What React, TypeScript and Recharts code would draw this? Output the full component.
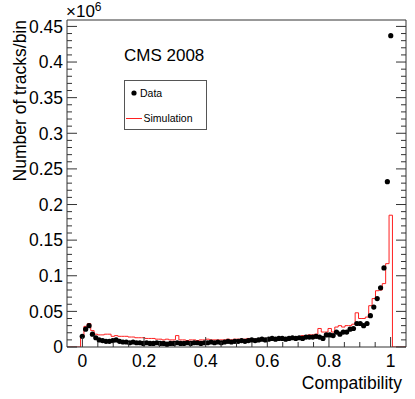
import React from 'react';
import { ComposedChart, Line, Scatter, XAxis, YAxis } from 'recharts';

// Histogram definition: 100 bins from -0.05 to 1.05 (width 0.011)
const BIN_START = -0.05;
const BIN_WIDTH = 0.011;
const BIN_COUNT = 100;
const FIRST_FILLED_BIN = 4; // bin centred on ~0

// values in units of 10^6 tracks/bin, bins 4..95
const dataValues = [
  0.015, 0.025, 0.030, 0.018, 0.013, 0.010, 0.009, 0.008, 0.008, 0.009,
  0.010, 0.008, 0.007, 0.007, 0.006, 0.007, 0.006, 0.006, 0.005, 0.006,
  0.005, 0.005, 0.006, 0.005, 0.005, 0.004, 0.005, 0.005, 0.006, 0.005,
  0.005, 0.006, 0.005, 0.006, 0.006, 0.005, 0.006, 0.006, 0.007, 0.006,
  0.007, 0.006, 0.007, 0.008, 0.007, 0.008, 0.008, 0.009, 0.008, 0.009,
  0.010, 0.009, 0.010, 0.011, 0.010, 0.011, 0.012, 0.011, 0.012, 0.012,
  0.011, 0.012, 0.013, 0.012, 0.013, 0.012, 0.014, 0.014, 0.014, 0.015,
  0.014, 0.012, 0.017, 0.017, 0.016, 0.021, 0.018, 0.021, 0.021, 0.025,
  0.026, 0.033, 0.033, 0.030, 0.033, 0.044, 0.056, 0.068, 0.083, 0.111,
  0.232, 0.437,
];

const simValues = [
  0.015, 0.029, 0.033, 0.023, 0.018, 0.017, 0.017, 0.018, 0.018, 0.015,
  0.016, 0.015, 0.015, 0.015, 0.014, 0.014, 0.013, 0.013, 0.013, 0.012,
  0.012, 0.012, 0.011, 0.011, 0.010, 0.011, 0.010, 0.010, 0.016, 0.010,
  0.010, 0.009, 0.010, 0.010, 0.009, 0.010, 0.010, 0.011, 0.010, 0.010,
  0.010, 0.010, 0.010, 0.011, 0.010, 0.011, 0.011, 0.011, 0.011, 0.012,
  0.010, 0.011, 0.010, 0.011, 0.012, 0.011, 0.012, 0.012, 0.012, 0.013,
  0.012, 0.013, 0.013, 0.013, 0.014, 0.016, 0.016, 0.017, 0.017, 0.018,
  0.026, 0.021, 0.021, 0.026, 0.021, 0.028, 0.030, 0.028, 0.030, 0.030,
  0.032, 0.048, 0.040, 0.040, 0.042, 0.058, 0.068, 0.079, 0.080, 0.089,
  0.117, 0.185,
];

const xTicks = [
  0, 0.05, 0.1, 0.15, 0.2, 0.25, 0.3, 0.35, 0.4, 0.45, 0.5,
  0.55, 0.6, 0.65, 0.7, 0.75, 0.8, 0.85, 0.9, 0.95, 1.0,
];
const xLabelled = [0, 0.2, 0.4, 0.6, 0.8, 1];
const yLabelled = [0, 0.05, 0.1, 0.15, 0.2, 0.25, 0.3, 0.35, 0.4, 0.45];
const yTicks = Array.from({ length: 46 }, (_, i) => i / 100);

const X_DOMAIN: [number, number] = [-0.05, 1.05];
const Y_DOMAIN: [number, number] = [0, 0.459];

const simSeries = Array.from({ length: BIN_COUNT + 1 }, (_, k) => {
  const idx = k - FIRST_FILLED_BIN;
  const v = idx >= 0 && idx < simValues.length ? simValues[idx] : 0;
  return { x: BIN_START + k * BIN_WIDTH, sim: v };
});
const dataSeries = dataValues.map((v, i) => ({
  x: BIN_START + (i + FIRST_FILLED_BIN + 0.5) * BIN_WIDTH,
  y: v,
}));

const FONT = "'Liberation Sans', Arial, Helvetica, sans-serif";
const FRAME = '#333';

const isIn = (v: number, arr: number[]) => arr.some((a) => Math.abs(a - v) < 1e-6);
const fmt = (v: number) => (Math.abs(v) < 1e-9 ? '0' : String(parseFloat(v.toFixed(2))));

const BottomTick = (p: any) => {
  const v = p.payload.value;
  const major = isIn(v, xLabelled);
  return (
    <g>
      <line x1={p.x} x2={p.x} y1={p.y} y2={p.y - (major ? 10 : 5)} stroke={FRAME} />
      {major && (
        <text x={p.x} y={p.y + 20} textAnchor="middle" fontSize={17.5} fontFamily={FONT} fill="#000">
          {fmt(v)}
        </text>
      )}
    </g>
  );
};
const TopTick = (p: any) => {
  const v = p.payload.value;
  const major = isIn(v, xLabelled);
  return <line x1={p.x} x2={p.x} y1={p.y} y2={p.y + (major ? 10 : 5)} stroke={FRAME} />;
};
const LeftTick = (p: any) => {
  const v = p.payload.value;
  const major = isIn(v, yLabelled);
  return (
    <g>
      <line x1={p.x} x2={p.x + (major ? 10 : 5)} y1={p.y} y2={p.y} stroke={FRAME} />
      {major && (
        <text x={p.x - 4} y={p.y} dy="0.36em" textAnchor="end" fontSize={17.5} fontFamily={FONT} fill="#000">
          {fmt(v)}
        </text>
      )}
    </g>
  );
};
const RightTick = (p: any) => {
  const v = p.payload.value;
  const major = isIn(v, yLabelled);
  return <line x1={p.x} x2={p.x - (major ? 10 : 5)} y1={p.y} y2={p.y} stroke={FRAME} />;
};

const Dot = (p: any) => <circle cx={p.cx} cy={p.cy} r={2.6} fill="#000" />;

export default function App() {
  return (
    <div style={{ position: 'absolute', left: 0, top: 0, width: 415, height: 399, background: '#fff' }}>
      <ComposedChart
        width={415}
        height={399}
        margin={{ top: 19, right: 8, bottom: 22, left: 0 }}
      >
        <XAxis
          xAxisId="x"
          dataKey="x"
          type="number"
          domain={X_DOMAIN}
          allowDataOverflow
          ticks={xTicks}
          interval={0}
          height={30}
          tickSize={0}
          tickMargin={0}
          tickLine={false}
          axisLine={{ stroke: FRAME }}
          tick={<BottomTick />}
        />
        <XAxis
          xAxisId="xt"
          orientation="top"
          type="number"
          domain={X_DOMAIN}
          allowDataOverflow
          ticks={xTicks}
          interval={0}
          height={1}
          tickSize={0}
          tickMargin={0}
          tickLine={false}
          axisLine={{ stroke: FRAME }}
          tick={<TopTick />}
        />
        <YAxis
          yAxisId="l"
          type="number"
          domain={Y_DOMAIN}
          allowDataOverflow
          ticks={yTicks}
          interval={0}
          width={67}
          tickSize={0}
          tickMargin={0}
          tickLine={false}
          axisLine={{ stroke: FRAME }}
          tick={<LeftTick />}
        />
        <YAxis
          yAxisId="r"
          orientation="right"
          type="number"
          domain={Y_DOMAIN}
          allowDataOverflow
          ticks={yTicks}
          interval={0}
          width={1}
          tickSize={0}
          tickMargin={0}
          tickLine={false}
          axisLine={{ stroke: FRAME }}
          tick={<RightTick />}
        />
        <Line
          xAxisId="x"
          yAxisId="l"
          data={simSeries}
          dataKey="sim"
          type="stepAfter"
          stroke="#ff2020"
          strokeWidth={1}
          dot={false}
          activeDot={false}
          isAnimationActive={false}
          name="Simulation"
        />
        <Scatter
          xAxisId="x"
          yAxisId="l"
          data={dataSeries}
          dataKey="y"
          shape={<Dot />}
          isAnimationActive={false}
          name="Data"
        />
      </ComposedChart>
      <svg
        width={415}
        height={399}
        style={{ position: 'absolute', left: 0, top: 0, pointerEvents: 'none' }}
      >
        <text x={66} y={17} fontSize={17} fontFamily={FONT} fill="#000">
          ×10<tspan fontSize={12} dy={-6}>6</tspan>
        </text>
        <text
          transform="translate(26,20) rotate(-90)"
          textAnchor="end"
          fontSize={17.5}
          fontFamily={FONT}
          fill="#000"
        >
          Number of tracks/bin
        </text>
        <text x={402} y={388.5} textAnchor="end" fontSize={17.5} fontFamily={FONT} fill="#000">
          Compatibility
        </text>
        <text x={124} y={61} fontSize={17} fontFamily={FONT} fill="#000">
          CMS 2008
        </text>
        <rect x={124.5} y={80.5} width={82} height={49} fill="#fff" stroke="#555" strokeWidth={1} />
        <circle cx={134} cy={93} r={2.6} fill="#000" />
        <text x={140} y={96.5} fontSize={10.5} fontFamily={FONT} fill="#000">
          Data
        </text>
        <line x1={126} x2={142} y1={118.5} y2={118.5} stroke="#ff2020" strokeWidth={1} />
        <text x={143.5} y={122} fontSize={10.5} fontFamily={FONT} fill="#000">
          Simulation
        </text>
      </svg>
    </div>
  );
}
